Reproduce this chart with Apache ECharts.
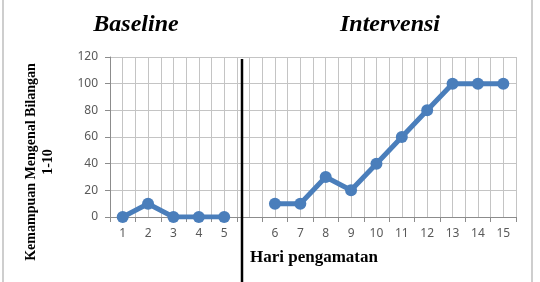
<!DOCTYPE html>
<html>
<head>
<meta charset="utf-8">
<script src="https://cdn.jsdelivr.net/npm/echarts@6/dist/echarts.min.js"></script>
<style>
    html, body { margin: 0; padding: 0; background: #ffffff; }
    #main { width: 540px; height: 282px; }
</style>
</head>
<body>
<div id="main"></div>
<script>
    // hari pengamatan (kosong = pemisah baseline / intervensi)
    var days = ['1', '2', '3', '4', '5', '', '6', '7', '8', '9', '10', '11', '12', '13', '14', '15'];
    var baselineValues = [0, 10, 0, 0, 0];
    var interventionValues = [10, 10, 30, 20, 40, 60, 80, 100, 100, 100];
    var yTicks = [0, 20, 40, 60, 80, 100, 120];

    // satu deret dengan celah di kolom kosong
    var lineData = baselineValues.concat(['-']).concat(interventionValues);

    // garis grid vertikal tiap setengah kategori (seperti di Excel)
    var halfSlots = [];
    for (var i = 0; i < days.length * 2; i++) halfSlots.push('');

    var serif = '"Liberation Serif", "DejaVu Serif", serif';
    var blue = '#4a7ebb';

    var chart = echarts.init(document.getElementById('main'));
    chart.setOption({
        animation: false,
        grid: { left: 110, right: 24, top: 57, bottom: 65 },
        xAxis: [
            {
                type: 'category',
                data: days,
                boundaryGap: true,
                axisLine: { lineStyle: { color: '#8c8c8c' } },
                axisTick: { show: true, length: 5, lineStyle: { color: '#8c8c8c' } },
                axisLabel: { color: '#595959', fontSize: 12, margin: 11, fontFamily: '"Noto Sans", sans-serif', interval: 0 },
                splitLine: { show: false }
            },
            {
                type: 'category',
                data: halfSlots,
                position: 'top',
                boundaryGap: true,
                axisLine: { show: false },
                axisTick: { show: false },
                axisLabel: { show: false },
                splitLine: { show: true, interval: 0, lineStyle: { color: '#c4c4c4', width: 1 } }
            }
        ],
        yAxis: {
            type: 'value',
            min: yTicks[0],
            max: yTicks[yTicks.length - 1],
            interval: 20,
            axisLine: { show: true, lineStyle: { color: '#8c8c8c' } },
            axisTick: { show: true, length: 5, lineStyle: { color: '#8c8c8c' } },
            axisLabel: { color: '#595959', fontSize: 12, margin: 12, fontFamily: '"Noto Sans", sans-serif' },
            splitLine: { show: true, lineStyle: { color: '#c4c4c4', width: 1 } }
        },
        series: [
            {
                name: 'Kemampuan',
                type: 'line',
                data: lineData,
                connectNulls: false,
                symbol: 'circle',
                symbolSize: 12,
                lineStyle: { color: blue, width: 5 },
                itemStyle: { color: blue }
            }
        ],
        graphic: [
            // bingkai
            {
                type: 'rect',
                shape: { x: 3, y: -10, width: 529, height: 300 },
                style: { fill: 'none', stroke: '#bfbfbf', lineWidth: 1.5 },
                silent: true
            },
            // garis pemisah fase
            {
                type: 'line',
                shape: { x1: 242, y1: 59, x2: 242, y2: 282 },
                style: { stroke: '#000000', lineWidth: 2.5 },
                z: 100
            },
            {
                type: 'text',
                x: 136, y: 25,
                style: { text: 'Baseline', font: 'italic bold 24px ' + serif, fill: '#000', align: 'center', verticalAlign: 'middle' }
            },
            {
                type: 'text',
                x: 390, y: 25,
                style: { text: 'Intervensi', font: 'italic bold 24px ' + serif, fill: '#000', align: 'center', verticalAlign: 'middle' }
            },
            {
                type: 'text',
                x: 40, y: 162,
                rotation: Math.PI / 2,
                style: { text: 'Kemampuan Mengenal Bilangan\n1-10', font: 'bold 14px ' + serif, fill: '#000', align: 'center', verticalAlign: 'middle', lineHeight: 17 }
            },
            {
                type: 'text',
                x: 250, y: 258,
                style: { text: 'Hari pengamatan', font: 'bold 17px ' + serif, fill: '#000', align: 'left', verticalAlign: 'middle' }
            }
        ]
    });
</script>
</body>
</html>
